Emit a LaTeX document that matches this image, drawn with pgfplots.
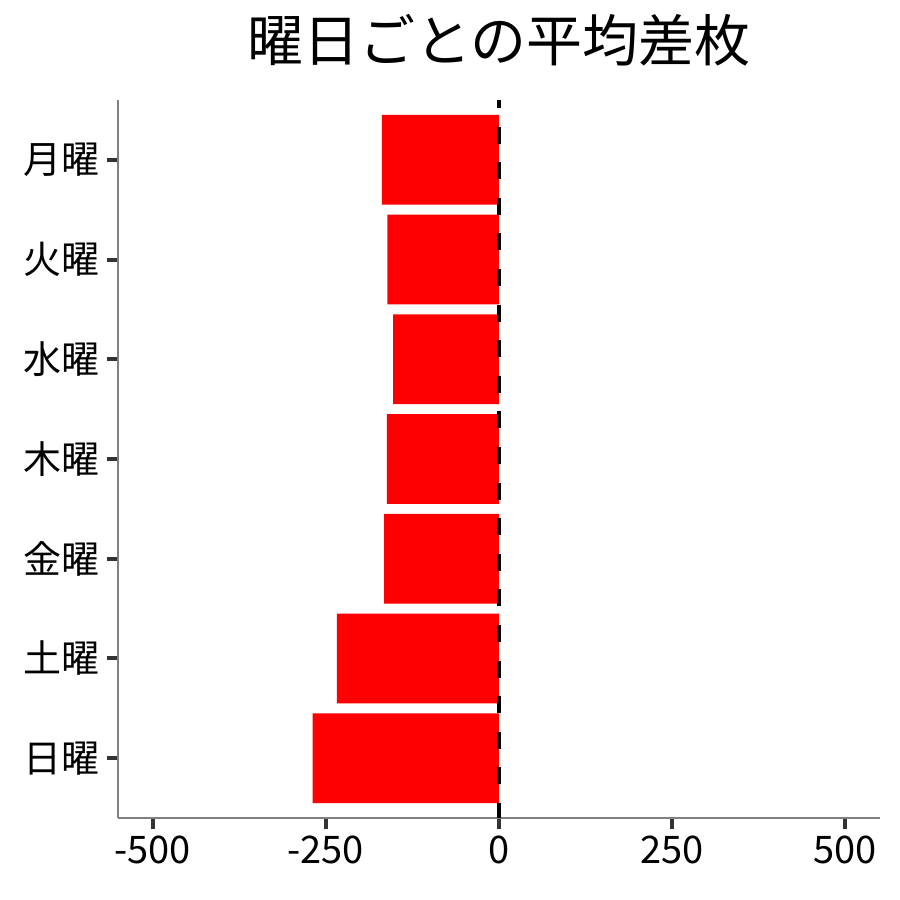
\documentclass[border=0pt]{standalone}
\usepackage{fontspec}
\setmainfont{Noto Sans CJK JP}
\usepackage{pgfplots}
\pgfplotsset{compat=1.18}

\begin{document}
\begin{tikzpicture}
\begin{axis}[
  at={(0,0)}, anchor=south west,
  scale only axis,
  width=381pt, height=359pt,
  xmin=-550, xmax=550,
  ymin=0.4, ymax=7.6,
  axis x line*=bottom, axis y line*=left,
  axis line style={-, draw=black!50, line width=0.85pt},
  xtick={-500,-250,0,250,500},
  xticklabels={-500,-250,0,250,500},
  ytick={1,2,3,4,5,6,7},
  yticklabels={日曜,土曜,金曜,木曜,水曜,火曜,月曜},
  tick align=outside,
  major tick length=5.5pt,
  tick style={draw=black!80, line width=2pt},
  ticklabel style={font=\fontsize{19}{22}\selectfont},
  /pgf/number format/assume math mode=true,
  title={曜日ごとの平均差枚},
  title style={at={(rel axis cs:0.5,1)}, anchor=center, yshift=24pt,
    font=\fontsize{28}{34}\selectfont},
]
\addplot[xbar, bar width=0.9, fill=red, draw=none] coordinates {
  (-169,7)
  (-161,6)
  (-153,5)
  (-162,4)
  (-166,3)
  (-234,2)
  (-269,1)
};
\draw[black, line width=1.8pt, dash pattern=on 8.5pt off 9.3pt, dash phase=4.5pt]
  (axis cs:0,7.6) -- (axis cs:0,0.4);
\end{axis}
\useasboundingbox (-59pt,-41pt) rectangle (391pt,409pt);
\end{tikzpicture}
\end{document}
